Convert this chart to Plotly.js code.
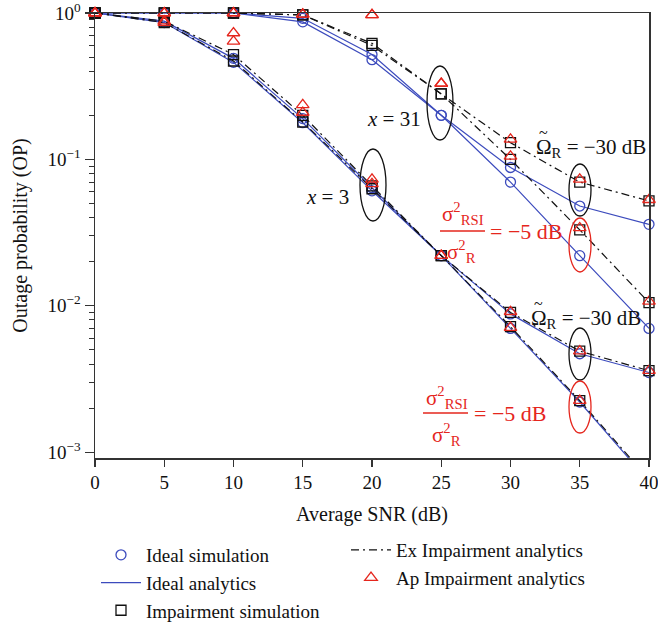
<!DOCTYPE html>
<html><head><meta charset="utf-8">
<script src="https://cdn.plot.ly/plotly-3.0.1.min.js"></script>
<style>body{margin:0;background:#fff;}</style>
</head><body><div id="chart" style="width:658px;height:631px;"></div>
<script>
const snr = [0, 5, 10, 15, 20, 25, 30, 35, 40];
// x = 31, Omega_R = -30 dB
const idealA = [1, 1, 1, 0.92, 0.52, 0.2, 0.088, 0.048, 0.036];
const exA    = [1, 1, 1, 0.97, 0.62, 0.28, 0.13, 0.07, 0.052];
const apA    = [1, 1, 1, 0.98, 0.97, 0.33, 0.137, 0.073, 0.053];
// x = 31, sigma_RSI^2/sigma_R^2 = -5 dB
const idealB = [1, 1, 1, 0.87, 0.48, 0.2, 0.07, 0.022, 0.007];
const exB    = [1, 1, 1, 0.97, 0.6, 0.28, 0.1, 0.033, 0.0105];
const apB    = [1, 1, 1, 0.98, 0.97, 0.33, 0.105, 0.034, 0.0107];
// x = 3, Omega_R = -30 dB
const idealC = [1, 0.88, 0.49, 0.19, 0.064, 0.022, 0.0088, 0.0047, 0.0035];
const exC    = [1, 0.88, 0.52, 0.2, 0.066, 0.022, 0.009, 0.0049, 0.0036];
const apC    = [1, 0.88, 0.73, 0.236, 0.073, 0.022, 0.0091, 0.0049, 0.0036];
// x = 3, sigma_RSI^2/sigma_R^2 = -5 dB
const idealD = [1, 0.86, 0.46, 0.178, 0.061, 0.022, 0.007, 0.0022, 0.00063];
const exD    = [1, 0.86, 0.47, 0.18, 0.063, 0.022, 0.0072, 0.00225, 0.00065];
const apD    = [1, 0.86, 0.64, 0.209, 0.068, 0.022, 0.0071, 0.00225, 0.00065];

const yTickVals = [0.001, 0.01, 0.1, 1];
const yTickText = ['10<sup>\u22123</sup>', '10<sup>\u22122</sup>', '10<sup>\u22121</sup>', '10<sup>0</sup>'];
const xTickVals = [0, 5, 10, 15, 20, 25, 30, 35, 40];

const BLUE = '#3c4bbd';
const RED = '#e5261d';
const FONT = 'Liberation Serif, DejaVu Serif, serif';

const idealSets = [idealA, idealB, idealC, idealD];
const exSets = [exA, exB, exC, exD];
const apSets = [apA, apB, apC, apD];

const traces = [];
idealSets.forEach((v, i) => traces.push({
  x: snr, y: v, mode: 'lines', type: 'scatter',
  line: {color: BLUE, width: 1.2},
  name: 'Ideal analytics', legendgroup: 'ia', showlegend: i === 0, legend: 'legend', legendrank: 2
}));
exSets.forEach((v, i) => traces.push({
  x: snr, y: v, mode: 'lines', type: 'scatter',
  line: {color: '#111', width: 1.2, dash: '8px,4px,2px,4px'},
  name: 'Ex Impairment analytics', legendgroup: 'ex', showlegend: i === 0, legend: 'legend2', legendrank: 1
}));
idealSets.forEach((v, i) => traces.push({
  x: snr, y: v, mode: 'markers', type: 'scatter', cliponaxis: false,
  marker: {symbol: 'circle-open', size: 10, color: BLUE, line: {width: 1.3}},
  name: 'Ideal simulation', legendgroup: 'is', showlegend: i === 0, legend: 'legend', legendrank: 1
}));
exSets.forEach((v, i) => traces.push({
  x: snr, y: v, mode: 'markers', type: 'scatter', cliponaxis: false,
  marker: {symbol: 'square-open', size: 10, color: '#111', line: {width: 1.3}},
  name: 'Impairment simulation', legendgroup: 'isim', showlegend: i === 0, legend: 'legend', legendrank: 3
}));
apSets.forEach((v, i) => traces.push({
  x: snr, y: v, mode: 'markers', type: 'scatter', cliponaxis: false,
  marker: {symbol: 'triangle-up-open', size: 11, color: RED, line: {width: 1.3}},
  name: 'Ap Impairment analytics', legendgroup: 'ap', showlegend: i === 0, legend: 'legend2', legendrank: 2
}));

const L = 95, R = 649, T = 13, B = 458;
const px = v => (v - L) / (R - L);
const py = v => (B - v) / (B - T);

const omegaText = '\u03A9<sub>R</sub> = \u221230 dB';
const numText = '\u03C3<sup>2</sup><sub>RSI</sub>';
const denText = '\u03C3<sup>2</sup><sub>R</sub>';
const eqText = '= \u22125 dB';

function ann(text, xpix, ypix, color, size, anchor) {
  return {text: text, xref: 'paper', yref: 'paper', x: px(xpix), y: py(ypix),
    showarrow: false, xanchor: anchor || 'center', yanchor: 'middle',
    font: {family: FONT, size: size || 21, color: color || '#111'}};
}

const annotations = [
  ann('<i>x</i> = 31', 394, 119),
  ann('<i>x</i> = 3', 327, 197),
  ann(omegaText, 534, 148, '#111', 21, 'left'),
  ann('~', 543, 132, '#111', 16),
  ann(omegaText, 529, 319, '#111', 21, 'left'),
  ann('~', 538, 303, '#111', 16),
  ann(numText, 463, 213, RED, 21),
  ann(eqText, 488, 231, RED, 22, 'left'),
  ann(denText, 461, 251, RED, 21),
  ann(numText, 447, 397, RED, 21),
  ann(eqText, 472, 413, RED, 22, 'left'),
  ann(denText, 446, 434, RED, 21)
];

function ell(cx, cy, rx, ry, color) {
  return {type: 'circle', xref: 'paper', yref: 'paper',
    x0: px(cx - rx), x1: px(cx + rx), y0: py(cy + ry), y1: py(cy - ry),
    line: {color: color, width: 1.3}};
}
function bar(x0, x1, y, color) {
  return {type: 'line', xref: 'paper', yref: 'paper', x0: px(x0), x1: px(x1), y0: py(y), y1: py(y),
    line: {color: color, width: 1.3}};
}
const shapes = [
  ell(440, 103, 13, 37, '#111'),
  ell(373, 185, 13, 36, '#111'),
  ell(580, 190, 11, 26, '#111'),
  ell(580, 245, 11, 27, RED),
  ell(580, 354, 11, 26, '#111'),
  ell(580, 407, 11, 26, RED),
  bar(440, 485, 231, RED),
  bar(423, 468, 413, RED)
];

const layout = {
  width: 658, height: 631,
  margin: {l: L, r: 658 - R, t: T, b: 631 - B, autoexpand: false},
  paper_bgcolor: '#fff', plot_bgcolor: '#fff',
  font: {family: FONT, size: 19, color: '#111'},
  xaxis: {
    range: [0, 40], tickmode: 'array', tickvals: xTickVals,
    ticks: 'outside', ticklen: 7, tickwidth: 1.2, tickcolor: '#333',
    showline: true, linecolor: '#333', linewidth: 1.5, mirror: true,
    showgrid: false, zeroline: false, automargin: false, ticklabeloverflow: 'allow',
    tickfont: {family: FONT, size: 19, color: '#111'},
    title: {text: 'Average SNR (dB)', font: {family: FONT, size: 20, color: '#111'}, standoff: 14}
  },
  yaxis: {
    type: 'log', range: [-3.04, 0],
    tickmode: 'array', tickvals: yTickVals, ticktext: yTickText,
    ticks: 'outside', ticklen: 9, tickwidth: 1.2, tickcolor: '#333',
    minor: {tickmode: 'linear', dtick: 'D1', ticks: 'outside', ticklen: 5, tickwidth: 1, tickcolor: '#333', showgrid: false},
    showline: true, linecolor: '#333', linewidth: 1.5, mirror: true,
    showgrid: false, zeroline: false, automargin: false, ticklabeloverflow: 'allow',
    tickfont: {family: FONT, size: 19, color: '#111'},
    title: {text: 'Outage probability (OP)', font: {family: FONT, size: 20, color: '#111'}, standoff: 14}
  },
  legend: {
    x: px(96), y: py(536), xanchor: 'left', yanchor: 'top',
    bgcolor: 'rgba(0,0,0,0)', font: {family: FONT, size: 19, color: '#111'},
    traceorder: 'normal', itemwidth: 40
  },
  legend2: {
    x: px(346), y: py(531), xanchor: 'left', yanchor: 'top',
    bgcolor: 'rgba(0,0,0,0)', font: {family: FONT, size: 19, color: '#111'},
    traceorder: 'normal', itemwidth: 40
  },
  annotations: annotations,
  shapes: shapes
};

Plotly.newPlot('chart', traces, layout, {staticPlot: true, displayModeBar: false});
</script>
</body></html>
